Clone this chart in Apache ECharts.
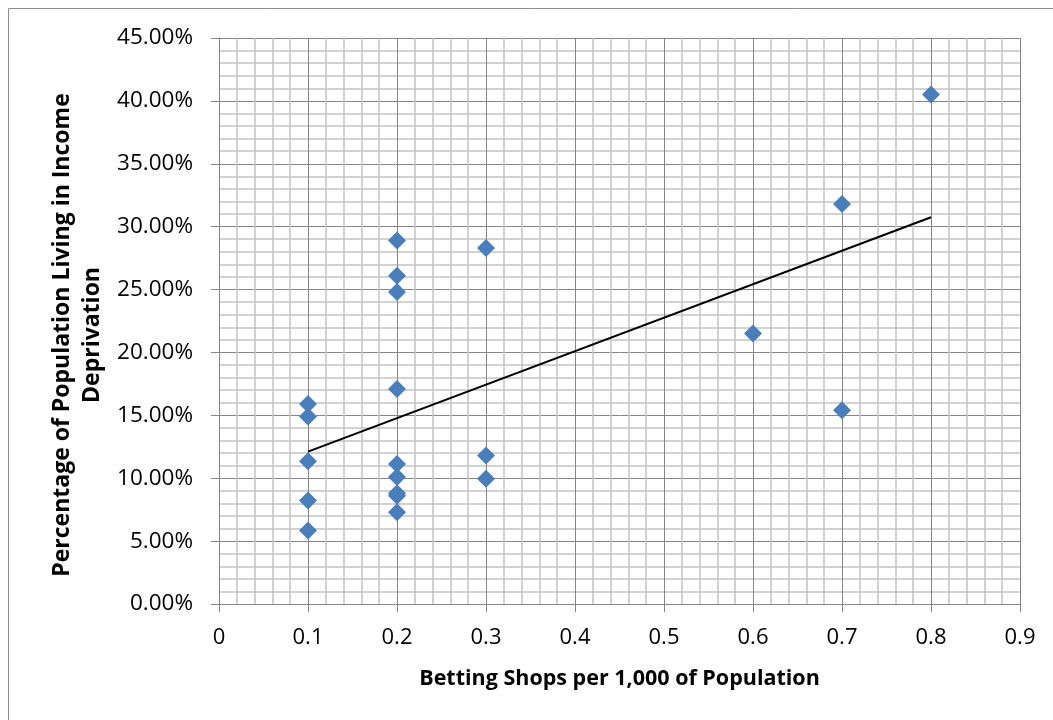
<!DOCTYPE html>
<html>
<head>
<meta charset="utf-8">
<script src="https://cdn.jsdelivr.net/npm/echarts@6/dist/echarts.min.js"></script>
<style>
  html, body { margin: 0; padding: 0; background: #ffffff; }
  #chart { width: 1053px; height: 720px; }
</style>
</head>
<body>
<div id="chart"></div>
<script>
// Betting shops per 1,000 people against share of people in income deprivation
const shopsPerThousand = [
  0.1, 0.1, 0.1, 0.1, 0.1,
  0.2, 0.2, 0.2, 0.2, 0.2, 0.2, 0.2, 0.2, 0.2,
  0.3, 0.3, 0.3,
  0.6,
  0.7, 0.7,
  0.8
];
const incomeDeprivation = [
  0.159, 0.149, 0.1135, 0.0823, 0.0584,
  0.289, 0.261, 0.248, 0.171, 0.1114, 0.101, 0.088, 0.086, 0.073,
  0.283, 0.118, 0.0995,
  0.215,
  0.318, 0.154,
  0.405
];
const xTicks = [0, 0.1, 0.2, 0.3, 0.4, 0.5, 0.6, 0.7, 0.8, 0.9];
const yTicks = [0, 0.05, 0.10, 0.15, 0.20, 0.25, 0.30, 0.35, 0.40, 0.45];

const xTitle = 'Betting Shops per 1,000 of Population';
const yTitle = 'Percentage of Population Living in Income\nDeprivation';

// Least-squares trend line over the observed x range
const n = shopsPerThousand.length;
const mx = shopsPerThousand.reduce((a, b) => a + b, 0) / n;
const my = incomeDeprivation.reduce((a, b) => a + b, 0) / n;
let sxy = 0, sxx = 0;
for (let i = 0; i < n; i++) {
  sxy += (shopsPerThousand[i] - mx) * (incomeDeprivation[i] - my);
  sxx += (shopsPerThousand[i] - mx) ** 2;
}
const slope = sxy / sxx;
const intercept = my - slope * mx;
const xLo = Math.min(...shopsPerThousand);
const xHi = Math.max(...shopsPerThousand);
const trend = [[xLo, intercept + slope * xLo], [xHi, intercept + slope * xHi]];

const points = shopsPerThousand.map((x, i) => [x, incomeDeprivation[i]]);

const FONT = 'Open Sans';
const chart = echarts.init(document.getElementById('chart'), null, { renderer: 'canvas' });

chart.setOption({
  animation: false,
  backgroundColor: '#ffffff',
  grid: { left: 219, top: 38, right: 33, bottom: 116, containLabel: false },
  xAxis: {
    type: 'value',
    min: xTicks[0],
    max: xTicks[xTicks.length - 1],
    interval: xTicks[1] - xTicks[0],
    axisLine: { show: true, lineStyle: { color: '#868686', width: 1 } },
    axisTick: { show: true, length: 8, lineStyle: { color: '#868686' } },
    minorTick: { show: false, splitNumber: 5 },
    splitLine: { show: true, lineStyle: { color: '#868686', width: 1 } },
    minorSplitLine: { show: true, lineStyle: { color: '#c4c4c4', width: 1.5 } },
    axisLabel: {
      margin: 23, color: '#000000', fontFamily: FONT, fontSize: 22,
      formatter: v => String(Math.round(v * 10) / 10)
    }
  },
  yAxis: {
    type: 'value',
    min: yTicks[0],
    max: yTicks[yTicks.length - 1],
    interval: yTicks[1] - yTicks[0],
    axisLine: { show: true, lineStyle: { color: '#868686', width: 1 } },
    axisTick: { show: true, length: 8, lineStyle: { color: '#868686' } },
    minorTick: { show: false, splitNumber: 5 },
    splitLine: { show: true, lineStyle: { color: '#868686', width: 1 } },
    minorSplitLine: { show: true, lineStyle: { color: '#c4c4c4', width: 1.5 } },
    axisLabel: {
      margin: 26, color: '#000000', fontFamily: FONT, fontSize: 22.5,
      formatter: v => (v * 100).toFixed(2) + '%'
    }
  },
  graphic: [
    {
      type: 'rect', silent: true, z: -1,
      shape: { x: 8.5, y: 8.5, width: 1200, height: 900 },
      style: { fill: 'none', stroke: '#8c8c8c', lineWidth: 1 }
    },
    {
      type: 'text', silent: true,
      x: 619.5, y: 679,
      style: {
        text: xTitle, fill: '#000000', font: 'bold 21.5px "Open Sans"',
        align: 'center', verticalAlign: 'middle'
      }
    },
    {
      type: 'text', silent: true,
      x: 77, y: 335, rotation: Math.PI / 2,
      style: {
        text: yTitle, fill: '#000000', font: 'bold 23px "Open Sans"',
        align: 'center', verticalAlign: 'middle', lineHeight: 30
      }
    }
  ],
  series: [
    {
      type: 'line',
      data: trend,
      symbol: 'none',
      lineStyle: { color: '#000000', width: 2 },
      z: 2
    },
    {
      type: 'scatter',
      data: points,
      symbol: 'diamond',
      symbolSize: 18,
      itemStyle: { color: '#4a7ebb', opacity: 1 },
      z: 3
    }
  ]
});
</script>
</body>
</html>
